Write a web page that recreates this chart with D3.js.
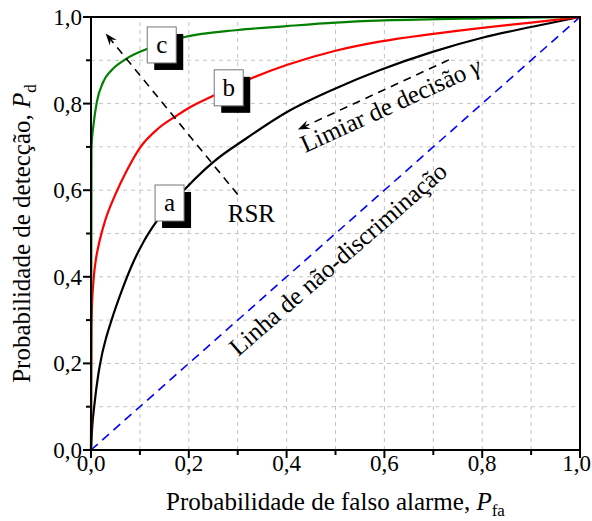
<!DOCTYPE html>
<html><head><meta charset="utf-8">
<script src="https://cdn.jsdelivr.net/npm/d3@7"></script>
<style>body{margin:0;background:#fff}svg{display:block}text{font-family:"Liberation Serif","Times New Roman",serif}</style>
</head><body><svg id="c" width="592" height="521"></svg>
<script>
const xTicks=[0,0.2,0.4,0.6,0.8,1.0];
const yTicks=[0,0.2,0.4,0.6,0.8,1.0];
const tickLabels=["0,0","0,2","0,4","0,6","0,8","1,0"];
const curveA_pfa=[0,0.002,0.007,0.015,0.022,0.03,0.042,0.063,0.083,0.107,0.134,0.19,0.233,0.25,0.318,0.40,0.50,0.59,0.70,0.80,0.90,1];
const curveA_pd =[0,0.045,0.105,0.175,0.218,0.255,0.30,0.368,0.425,0.48,0.528,0.60,0.648,0.665,0.72,0.78,0.835,0.877,0.92,0.952,0.977,1];
const curveB_pfa=[0,0.001,0.002,0.005,0.01,0.015,0.029,0.049,0.073,0.1,0.138,0.175,0.2,0.233,0.25,0.325,0.40,0.50,0.59,0.70,0.80,0.90,1];
const curveB_pd =[0,0.28,0.33,0.39,0.44,0.47,0.53,0.588,0.645,0.698,0.743,0.772,0.79,0.809,0.818,0.857,0.889,0.922,0.943,0.961,0.975,0.987,1];
const curveC_pfa=[0,0.001,0.005,0.012,0.025,0.042,0.07,0.114,0.185,0.30,0.40,0.50,0.60,0.80,1];
const curveC_pd =[0,0.70,0.75,0.804,0.85,0.877,0.902,0.926,0.952,0.970,0.979,0.987,0.992,0.997,1];
const seriesNames=["a","b","c"];
const seriesColors=["#000000","#ff0000","#008000"];
const boxPos=[[0.131,0.612],[0.252,0.878],[0.115,0.977]];
const rsrArrow=[[0.30,0.59],[0.03,0.962]];
const limiarArrow=[[0.732,0.901],[0.423,0.740]];

const W=592,H=521,m={l:91,t:17,r:12,b:71};
const svg=d3.select("#c");
const x=d3.scaleLinear().domain([0,1]).range([m.l,W-m.r]);
const y=d3.scaleLinear().domain([0,1]).range([H-m.b,m.t]);
const g=svg.append("g");
const minor=d3.range(1,10).map(i=>i/10);
// grid
g.selectAll(".gx").data(minor).join("line").attr("x1",d=>x(d)).attr("x2",d=>x(d)).attr("y1",y(0)).attr("y2",y(1))
 .attr("stroke","#c4c4c4").attr("stroke-width",1).attr("stroke-dasharray","4,4");
g.selectAll(".gy").data(minor).join("line").attr("y1",d=>y(d)).attr("y2",d=>y(d)).attr("x1",x(0)).attr("x2",x(1))
 .attr("stroke","#c4c4c4").attr("stroke-width",1).attr("stroke-dasharray","4,4");
// diagonal
g.append("line").attr("x1",x(0)).attr("y1",y(0)).attr("x2",x(1)).attr("y2",y(1))
 .attr("stroke","#0000ff").attr("stroke-width",1.6).attr("stroke-dasharray","9,6");
// curves
const line=d3.line().x(d=>x(d[0])).y(d=>y(d[1])).curve(d3.curveMonotoneX);
const series=[d3.zip(curveA_pfa,curveA_pd),d3.zip(curveB_pfa,curveB_pd),d3.zip(curveC_pfa,curveC_pd)];
series.forEach((s,i)=>g.append("path").datum(s).attr("d",line).attr("fill","none").attr("stroke",seriesColors[i]).attr("stroke-width",2.2));
// arrows
function arrow(p0,p1){
  const x0=x(p0[0]),y0=y(p0[1]),x1=x(p1[0]),y1=y(p1[1]);
  const a=Math.atan2(y1-y0,x1-x0),L=12,wd=4.5;
  g.append("line").attr("x1",x0).attr("y1",y0).attr("x2",x1-Math.cos(a)*6).attr("y2",y1-Math.sin(a)*6)
   .attr("stroke","#000").attr("stroke-width",1.6).attr("stroke-dasharray","8,6");
  const ux=Math.cos(a),uy=Math.sin(a),px=-uy,py=ux;
  const pts=[[x1,y1],[x1-ux*L+px*wd,y1-uy*L+py*wd],[x1-ux*L*0.65,y1-uy*L*0.65],[x1-ux*L-px*wd,y1-uy*L-py*wd]];
  g.append("path").attr("d","M"+pts.map(p=>p.join(",")).join("L")+"Z").attr("fill","#000");
}
arrow(rsrArrow[0],rsrArrow[1]);
arrow(limiarArrow[0],limiarArrow[1]);
// label boxes
seriesNames.forEach((n,i)=>{
  const bx=x(boxPos[i][0]),by=y(boxPos[i][1]),bw=29,bh=36;
  g.append("rect").attr("x",bx+7).attr("y",by+7).attr("width",bw).attr("height",bh).attr("fill","#000");
  g.append("rect").attr("x",bx).attr("y",by).attr("width",bw).attr("height",bh).attr("fill","#fff").attr("stroke","#777").attr("stroke-width",1);
  g.append("text").attr("x",bx+bw/2).attr("y",by+bh/2+8).attr("text-anchor","middle").attr("font-size",25).text(n);
});
// annotations
g.append("text").attr("x",x(0.328)).attr("y",y(0.527)).attr("text-anchor","middle").attr("font-size",25).text("RSR");
g.append("text").attr("transform",`translate(${x(0.438)},${y(0.686)}) rotate(-24.5)`).attr("font-size",25)
 .html('Limiar de decisão <tspan font-style="italic">γ</tspan>');
g.append("text").attr("transform",`translate(${x(0.301)},${y(0.215)}) rotate(-41)`).attr("font-size",25)
 .text("Linha de não-discriminação");
// frame
g.append("rect").attr("x",x(0)).attr("y",y(1)).attr("width",x(1)-x(0)).attr("height",y(0)-y(1)).attr("fill","none").attr("stroke","#000").attr("stroke-width",2);
// ticks
const all=d3.range(0,11).map(i=>i/10);
g.selectAll(".tx").data(all).join("line").attr("x1",d=>x(d)).attr("x2",d=>x(d)).attr("y1",y(0)).attr("y2",(d,i)=>y(0)+(i%2?5:8)).attr("stroke","#000").attr("stroke-width",2);
g.selectAll(".ty").data(all).join("line").attr("y1",d=>y(d)).attr("y2",d=>y(d)).attr("x1",x(0)).attr("x2",(d,i)=>x(0)-(i%2?5:8)).attr("stroke","#000").attr("stroke-width",2);
g.selectAll(".lx").data(xTicks).join("text")
 .attr("x",(d,i)=>i===xTicks.length-1?W-1:x(d))
 .attr("y",y(0)+21).attr("text-anchor",(d,i)=>i===xTicks.length-1?"end":"middle").attr("font-size",23).text((d,i)=>tickLabels[i]);
g.selectAll(".ly").data(yTicks).join("text").attr("x",x(0)-9).attr("y",d=>y(d)+8).attr("text-anchor","end").attr("font-size",23).text((d,i)=>tickLabels[i]);
// titles
g.append("text").attr("x",(x(0)+x(1))/2).attr("y",H-11).attr("text-anchor","middle").attr("font-size",25)
 .html('Probabilidade de falso alarme, <tspan font-style="italic">P</tspan><tspan font-size="17" dy="6">fa</tspan>');
g.append("text").attr("transform",`translate(30,${(y(0)+y(1))/2}) rotate(-90)`).attr("text-anchor","middle").attr("font-size",25)
 .html('Probabilidade de detecção, <tspan font-style="italic">P</tspan><tspan font-size="17" dy="6">d</tspan>');
</script></body></html>
